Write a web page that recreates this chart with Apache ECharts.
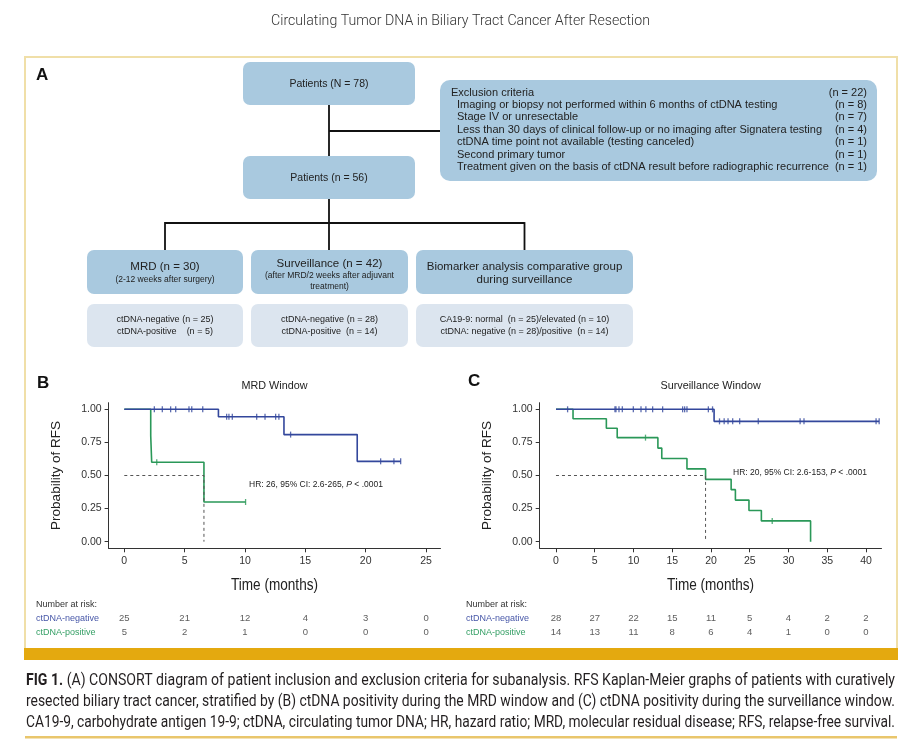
<!DOCTYPE html>
<html><head><meta charset="utf-8">
<script src="https://cdn.jsdelivr.net/npm/echarts@6/dist/echarts.min.js"></script>
<style>html,body{margin:0;padding:0;background:#fff}#c{width:900px;height:755px}</style>
</head><body><div id="c"></div><script>
// ---------- data ----------
const mrdTicks = [0, 5, 10, 15, 20, 25];
const survTicks = [0, 5, 10, 15, 20, 25, 30, 35, 40];
const yTicks = [0, 0.25, 0.5, 0.75, 1];
const mrdNegSteps = [[0, 1], [7.8, 0.944], [13.23, 0.809], [19.3, 0.607], [22.9, 0.607]];
const mrdNegCensor = [2.49, 3.15, 3.84, 4.26, 5.36, 5.59, 6.5, 8.48, 8.67, 8.95, 10.97, 11.66, 12.54, 12.81, 13.78, 21.24, 22.34, 22.9];
const mrdPosSteps = [[0, 1], [2.19, 0.8], [2.27, 0.6], [6.6, 0.3], [10.05, 0.3]];
const mrdPosCensor = [2.69, 10.05];
const mrdMedian = 6.6;
const survNegSteps = [[0, 1], [20.4, 0.909], [41.7, 0.909]];
const survNegCensor = [1.5, 7.61, 7.74, 8.13, 8.56, 9.98, 10.97, 11.6, 12.47, 13.76, 16.34, 16.6, 16.9, 19.66, 20.2, 21.1, 21.7, 22.2, 22.8, 23.7, 26.1, 31.5, 32.0, 41.3, 41.7];
const survPosSteps = [[0, 1], [2.2, 0.929], [6.5, 0.857], [7.9, 0.786], [13.15, 0.707], [13.65, 0.629], [16.9, 0.55], [19.3, 0.471], [22.6, 0.393], [23.15, 0.314], [24.9, 0.236], [26.5, 0.157], [32.85, 0]];
const survPosCensor = [11.55, 27.9];
const survMedian = 19.3;
const riskGroups = ['ctDNA-positive', 'ctDNA-negative'];
const mrdRiskNeg = [25, 21, 12, 4, 3, 0];
const mrdRiskPos = [5, 2, 1, 0, 0, 0];
const survRiskNeg = [28, 27, 22, 15, 11, 5, 4, 2, 2];
const survRiskPos = [14, 13, 11, 8, 6, 4, 1, 0, 0];
const exclusionRows = [
  ['Imaging or biopsy not performed within 6 months of ctDNA testing', '(n = 8)'],
  ['Stage IV or unresectable', '(n = 7)'],
  ['Less than 30 days of clinical follow-up or no imaging after Signatera testing', '(n = 4)'],
  ['ctDNA time point not available (testing canceled)', '(n = 1)'],
  ['Second primary tumor', '(n = 1)'],
  ['Treatment given on the basis of ctDNA result before radiographic recurrence', '(n = 1)']
];
const captionLines = [
  ' (A) CONSORT diagram of patient inclusion and exclusion criteria for subanalysis. RFS Kaplan-Meier graphs of patients with curatively',
  'resected biliary tract cancer, stratified by (B) ctDNA positivity during the MRD window and (C) ctDNA positivity during the surveillance window.',
  'CA19-9, carbohydrate antigen 19-9; ctDNA, circulating tumor DNA; HR, hazard ratio; MRD, molecular residual disease; RFS, relapse-free survival.'
];

// ---------- style ----------
const BLUE = '#33479c', GREEN = '#2a9858';
const BLUE_T = '#4757a8', GREEN_T = '#36a066';
const FF = '"Liberation Sans", Arial, Helvetica, sans-serif';
const BOX = '#a9c9df', BOX2 = '#dce5ef';

function surv(steps, t) { let v = steps[0][1]; for (const s of steps) { if (s[0] <= t) v = s[1]; } return v; }
const mctx = document.createElement('canvas').getContext('2d');
function textW(text, font) { mctx.font = font; return mctx.measureText(text).width; }

const chart = echarts.init(document.getElementById('c'));

function kmAxes(gi, min, max, ticks) {
  return {
    x: { gridIndex: gi, type: 'value', min: min, max: max,
      axisLine: { show: true, onZero: false, lineStyle: { color: '#333', width: 1 } },
      axisTick: { show: true, length: 4, customValues: ticks, lineStyle: { color: '#333' } },
      axisLabel: { customValues: ticks, fontSize: 10.5, color: '#333', margin: 7, fontFamily: FF },
      splitLine: { show: false } },
    y: { gridIndex: gi, type: 'value', min: -0.05, max: 1.05,
      axisLine: { show: true, onZero: false, lineStyle: { color: '#333', width: 1 } },
      axisTick: { show: true, length: 4, customValues: yTicks, lineStyle: { color: '#333' } },
      axisLabel: { customValues: yTicks, fontSize: 10.5, color: '#333', margin: 7, fontFamily: FF, formatter: v => v.toFixed(2) },
      splitLine: { show: false },
      name: 'Probability of RFS', nameLocation: 'middle', nameGap: 45,
      nameTextStyle: { fontSize: 13.5, color: '#222', fontFamily: FF } }
  };
}
const aB = kmAxes(0, -1.3, 26.2, mrdTicks);
const aC = kmAxes(1, -2.1, 42, survTicks);

function riskY(gi, margin) {
  return { gridIndex: gi, type: 'category', data: riskGroups,
    axisLine: { show: false }, axisTick: { show: false }, splitLine: { show: false },
    axisLabel: { align: 'left', margin: margin, fontSize: 9, fontFamily: FF,
      color: v => v === 'ctDNA-negative' ? BLUE_T : GREEN_T } };
}

function stepLine(xi, steps, color) {
  return { type: 'line', xAxisIndex: xi, yAxisIndex: xi, data: steps, step: 'end', showSymbol: false,
    lineStyle: { color: color, width: 1.6 }, silent: true, z: 3 };
}
function censor(xi, times, steps, color) {
  return { type: 'scatter', xAxisIndex: xi, yAxisIndex: xi, data: times.map(t => [t, surv(steps, t)]),
    symbol: 'rect', symbolSize: [1.3, 6], itemStyle: { color: color }, silent: true, z: 4 };
}
function median(xi, t) {
  return { type: 'line', xAxisIndex: xi, yAxisIndex: xi, data: [[0, 0.5], [t, 0.5], [t, 0]], showSymbol: false,
    lineStyle: { color: '#555', width: 1, type: [3, 3] }, silent: true, z: 5 };
}
function risk(xi, ticks, neg, pos) {
  const d = [];
  ticks.forEach((t, i) => { d.push([t, 'ctDNA-negative', neg[i]]); d.push([t, 'ctDNA-positive', pos[i]]); });
  return { type: 'scatter', xAxisIndex: xi, yAxisIndex: xi, data: d, symbolSize: 1,
    itemStyle: { color: 'rgba(0,0,0,0)' }, silent: true,
    label: { show: true, position: 'inside', formatter: p => String(p.value[2]), color: '#333', fontSize: 9.5, fontFamily: FF } };
}

// ---------- graphic (diagram, labels, frame, caption) ----------
const G = [];
function txt(x, y, text, o) {
  o = o || {};
  const st = Object.assign({ text: text, fontSize: 10, fontFamily: FF, fill: '#222',
    align: o.align || 'left', textAlign: o.align || 'left', verticalAlign: 'middle', textVerticalAlign: 'middle' }, o.style || {});
  const el = { type: 'text', x: x, y: y, style: st, silent: true, z: 10 };
  if (o.scaleX) el.scaleX = o.scaleX;
  G.push(el);
}
function box(x, y, w, h, fill, r) { G.push({ type: 'rect', shape: { x: x, y: y, width: w, height: h, r: r || 7 }, style: { fill: fill }, silent: true, z: 1 }); }
function ln(x1, y1, x2, y2) { G.push({ type: 'line', shape: { x1: x1, y1: y1, x2: x2, y2: y2 }, style: { stroke: '#111', lineWidth: 1.8 }, silent: true, z: 2 }); }

// frame
G.push({ type: 'rect', shape: { x: 25, y: 57, width: 872, height: 595 }, style: { fill: 'none', stroke: '#f0dfa8', lineWidth: 2 }, silent: true, z: 0 });
G.push({ type: 'rect', shape: { x: 24, y: 648, width: 874, height: 12 }, style: { fill: '#e4a90f' }, silent: true, z: 1 });
G.push({ type: 'rect', shape: { x: 25, y: 736, width: 872, height: 2.5 }, style: { fill: '#e9c66c' }, silent: true, z: 1 });

// top title
(function () {
  const t = 'Circulating Tumor DNA in Biliary Tract Cancer After Resection';
  const f = '300 15.5px Roboto';
  const s = 379 / textW(t, f);
  txt(271, 21, t, { scaleX: s, style: { fontFamily: 'Roboto', fontWeight: 300, fontSize: 15.5, fill: '#333' } });
})();

// caption
(function () {
  const fs = 16, fam = 'Roboto';
  const target = 869;
  const w0 = textW('FIG 1.', 'bold ' + fs + 'px ' + fam) + textW(captionLines[0], fs + 'px ' + fam);
  G.push({ type: 'text', x: 26, y: 681, scaleX: target / w0, silent: true, z: 10,
    style: { text: '{b|FIG 1.}{n|' + captionLines[0] + '}', verticalAlign: 'middle', textVerticalAlign: 'middle', align: 'left', textAlign: 'left',
      rich: { b: { fontWeight: 'bold', fontSize: fs, fontFamily: fam, fill: '#231f20', color: '#231f20' },
              n: { fontSize: fs, fontFamily: fam, fill: '#231f20', color: '#231f20' } } } });
  [captionLines[1], captionLines[2]].forEach((l, i) => {
    const s = target / textW(l, fs + 'px ' + fam);
    txt(26, 702 + i * 21, l, { scaleX: s, style: { fontFamily: fam, fontSize: fs, fill: '#231f20' } });
  });
})();

// panel letters
txt(36, 75, 'A', { style: { fontSize: 17, fontWeight: 'bold', fill: '#111' } });
txt(37, 383, 'B', { style: { fontSize: 17, fontWeight: 'bold', fill: '#111' } });
txt(468, 381, 'C', { style: { fontSize: 17, fontWeight: 'bold', fill: '#111' } });

// CONSORT diagram
box(243, 62, 172, 43, BOX);
txt(329, 84, 'Patients (N = 78)', { align: 'center', style: { fontSize: 10.5 } });
box(243, 156, 172, 43, BOX);
txt(329, 178, 'Patients (n = 56)', { align: 'center', style: { fontSize: 10.5 } });
ln(329, 105, 329, 156);
ln(329, 131, 440, 131);
ln(329, 199, 329, 250);
ln(165, 223, 524.5, 223);
ln(165, 222.1, 165, 250);
ln(524.5, 222.1, 524.5, 250);
box(440, 80, 437, 101, BOX, 10);
txt(451, 92.5, 'Exclusion criteria', { style: { fontSize: 11 } });
txt(867, 92.5, '(n = 22)', { align: 'right', style: { fontSize: 11 } });
exclusionRows.forEach((r, i) => {
  const y = 92.5 + (i + 1) * 12.4;
  txt(457, y, r[0], { style: { fontSize: 11 } });
  txt(867, y, r[1], { align: 'right', style: { fontSize: 11 } });
});
box(87, 250, 156, 44, BOX); box(251, 250, 157, 44, BOX); box(416, 250, 217, 44, BOX);
box(87, 304, 156, 43, BOX2); box(251, 304, 157, 43, BOX2); box(416, 304, 217, 43, BOX2);
txt(165, 267, 'MRD (n = 30)', { align: 'center', style: { fontSize: 11.5 } });
txt(165, 279.5, '(2-12 weeks after surgery)', { align: 'center', style: { fontSize: 8.5 } });
txt(329.5, 263.5, 'Surveillance (n = 42)', { align: 'center', style: { fontSize: 11.5 } });
txt(329.5, 276, '(after MRD/2 weeks after adjuvant', { align: 'center', style: { fontSize: 8.5 } });
txt(329.5, 286.5, 'treatment)', { align: 'center', style: { fontSize: 8.5 } });
txt(524.5, 266.5, 'Biomarker analysis comparative group', { align: 'center', style: { fontSize: 11.5 } });
txt(524.5, 279.5, 'during surveillance', { align: 'center', style: { fontSize: 11.5 } });
txt(165, 319.5, 'ctDNA-negative (n = 25)', { align: 'center', style: { fontSize: 9 } });
txt(165, 331.5, 'ctDNA-positive    (n = 5)', { align: 'center', style: { fontSize: 9 } });
txt(329.5, 319.5, 'ctDNA-negative (n = 28)', { align: 'center', style: { fontSize: 9 } });
txt(329.5, 331.5, 'ctDNA-positive  (n = 14)', { align: 'center', style: { fontSize: 9 } });
txt(524.5, 319.5, 'CA19-9: normal  (n = 25)/elevated (n = 10)', { align: 'center', style: { fontSize: 9 } });
txt(524.5, 331.5, 'ctDNA: negative (n = 28)/positive  (n = 14)', { align: 'center', style: { fontSize: 9 } });

// KM panel titles, HR texts, x titles, risk headers
txt(274.5, 386, 'MRD Window', { align: 'center', style: { fontSize: 10.8 } });
txt(710.6, 386, 'Surveillance Window', { align: 'center', style: { fontSize: 10.8 } });
function hr(x, y, s) {
  G.push({ type: 'text', x: x, y: y, silent: true, z: 10,
    style: { text: '{n|' + s + '}{i|P}{n| < .0001}', align: 'left', textAlign: 'left', verticalAlign: 'middle', textVerticalAlign: 'middle',
      rich: { n: { fontSize: 8.5, fontFamily: FF, fill: '#222', color: '#222' }, i: { fontSize: 8.5, fontFamily: FF, fontStyle: 'italic', fill: '#222', color: '#222' } } } });
}
hr(249, 484.5, 'HR: 26, 95% CI: 2.6-265, ');
hr(733, 473, 'HR: 20, 95% CI: 2.6-153, ');
(function () {
  const t = 'Time (months)', f = '16.5px "Liberation Sans"';
  const w = 87;
  const s = w / textW(t, f);
  txt(274.5 - w / 2, 585, t, { scaleX: s, style: { fontSize: 16.5 } });
  txt(710.6 - w / 2, 585, t, { scaleX: s, style: { fontSize: 16.5 } });
})();
txt(36, 605, 'Number at risk:', { style: { fontSize: 9, fill: '#333' } });
txt(466, 605, 'Number at risk:', { style: { fontSize: 9, fill: '#333' } });

// ---------- option ----------
const option = {
  backgroundColor: '#fff',
  animation: false,
  grid: [
    { left: 108.6, top: 402.7, width: 331.9, height: 145.6, outerBoundsMode: 'none' },
    { left: 539.7, top: 402.7, width: 341.8, height: 145.6, outerBoundsMode: 'none' },
    { left: 108.6, top: 611, width: 331.9, height: 29, outerBoundsMode: 'none' },
    { left: 539.7, top: 611, width: 341.8, height: 29, outerBoundsMode: 'none' }
  ],
  xAxis: [aB.x, aC.x,
    { gridIndex: 2, type: 'value', min: -1.3, max: 26.2, show: false },
    { gridIndex: 3, type: 'value', min: -2.1, max: 42, show: false }],
  yAxis: [aB.y, aC.y, riskY(2, 72.6), riskY(3, 73.7)],
  series: [
    stepLine(0, mrdPosSteps, GREEN), stepLine(0, mrdNegSteps, BLUE),
    censor(0, mrdPosCensor, mrdPosSteps, GREEN), censor(0, mrdNegCensor, mrdNegSteps, BLUE),
    median(0, mrdMedian),
    stepLine(1, survPosSteps, GREEN), stepLine(1, survNegSteps, BLUE),
    censor(1, survPosCensor, survPosSteps, GREEN), censor(1, survNegCensor, survNegSteps, BLUE),
    median(1, survMedian),
    risk(2, mrdTicks, mrdRiskNeg, mrdRiskPos),
    risk(3, survTicks, survRiskNeg, survRiskPos)
  ],
  graphic: { elements: G }
};
chart.setOption(option);
</script></body></html>
